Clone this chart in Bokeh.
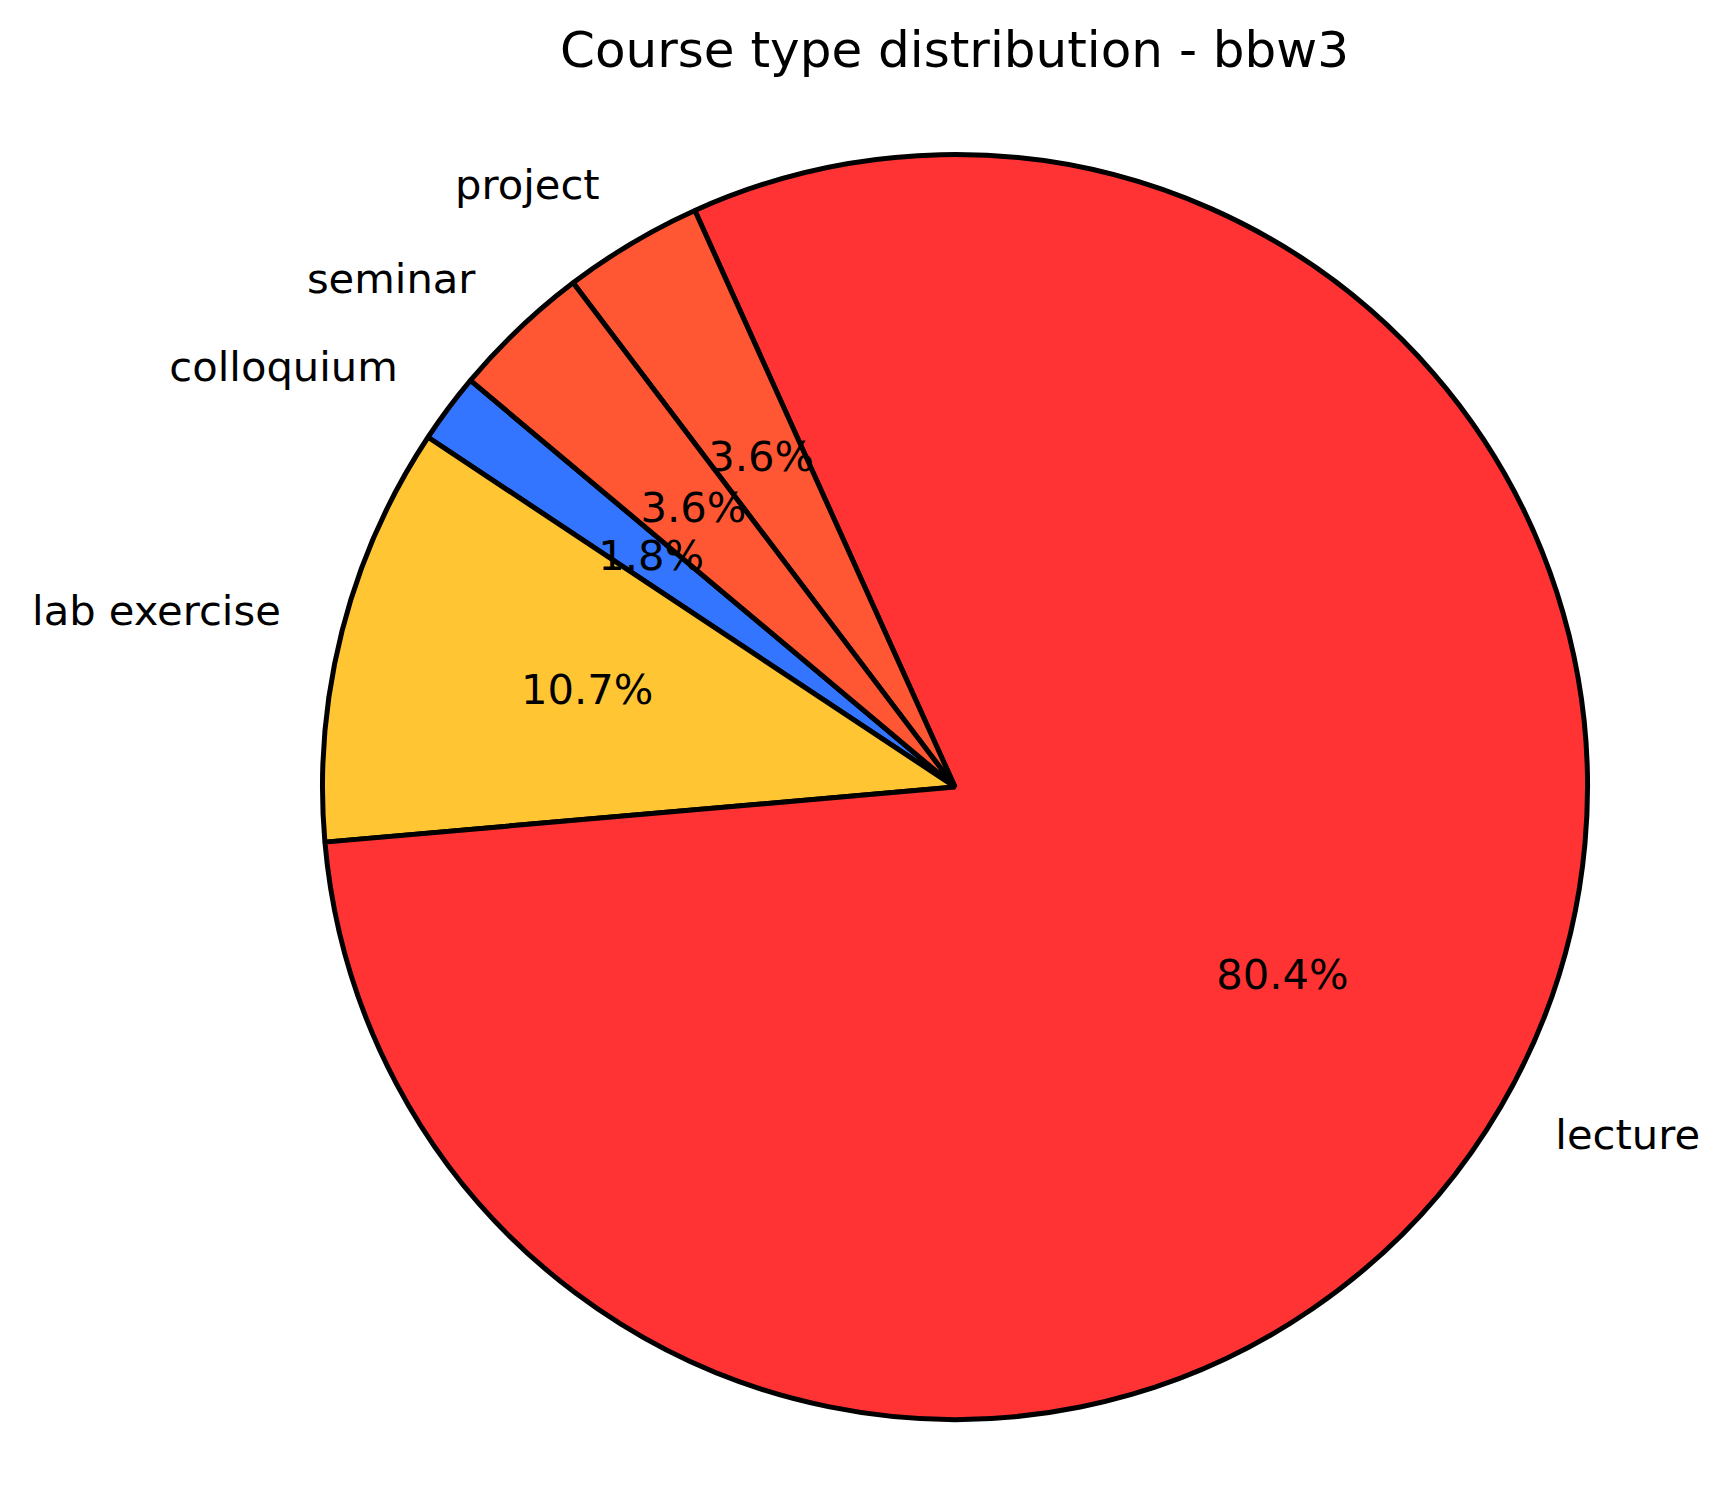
import math
from bokeh.plotting import figure
from bokeh.models import Range1d, ColumnDataSource
from bokeh.core.properties import value
from bokeh.embed import file_html
from bokeh.resources import INLINE

# ---- data ----
categories = ["colloquium", "lab exercise", "lecture", "project", "seminar"]
counts = [1, 6, 45, 2, 2]
colors = ["#3375FF", "#FFC533", "#FF3333", "#FF5733", "#FF5733"]
title_text = "Course type distribution - bbw3"
start_angle_deg = 140.0

# ---- layout (screen px of the page) ----
W, H = 1715, 1493
OX, OY = 0, 0  # where the plot frame's top-left lands on the page
CX, CY, R = 954.5, 786.5, 632.5
FONT = "DejaVu Sans"
LABEL_PX = 41.67
TITLE_PX = 50.0
BASE_FIX = 0.38  # em, empirical correction of the renderer's baseline

p = figure(width=W, height=H, output_backend="svg", toolbar_location=None,
           x_axis_type=None, y_axis_type=None, min_border=0,
           x_range=Range1d((OX - CX) / R, (OX + W - CX) / R),
           y_range=Range1d((CY - (OY + H)) / R, (CY - OY) / R))
p.outline_line_color = None
p.grid.visible = False
p.background_fill_color = "white"
p.border_fill_color = "white"

total = float(sum(counts))
starts, ends, mids = [], [], []
a = math.radians(start_angle_deg)
for c in counts:
    sweep = 2 * math.pi * c / total
    starts.append(a)
    ends.append(a + sweep)
    mids.append(a + sweep / 2)
    a += sweep

src = ColumnDataSource(dict(start=starts, end=ends, color=colors))
p.wedge(x=0, y=0, radius=1.0, start_angle="start", end_angle="end",
        fill_color="color", line_color="black", line_width=5,
        line_join="bevel", direction="anticlock", source=src)

# offset from visual centre to baseline (matplotlib va='center')
lab_off = (0.276 - BASE_FIX) * LABEL_PX / R

lx, ly, lt, la = [], [], [], []
px, py, pt = [], [], []
for name, c, m in zip(categories, counts, mids):
    cx, sy = math.cos(m), math.sin(m)
    lx.append(1.1 * cx)
    ly.append(1.1 * sy - lab_off)
    lt.append(name)
    la.append("left" if cx > 0 else "right")
    px.append(0.6 * cx)
    py.append(0.6 * sy - lab_off)
    pt.append("%.1f%%" % (100.0 * c / total))

for align in ("left", "right"):
    idx = [i for i in range(len(lt)) if la[i] == align]
    p.text(x=[lx[i] for i in idx], y=[ly[i] for i in idx], text=[lt[i] for i in idx],
           text_font=value(FONT), text_font_size="%.2fpx" % LABEL_PX,
           text_align=align, text_baseline="alphabetic", text_color="black")

p.text(x=px, y=py, text=pt, text_font=value(FONT), text_font_size="%.2fpx" % LABEL_PX,
       text_align="center", text_baseline="alphabetic", text_color="black")

# title
p.text(x=[(954 - CX) / R], y=[(CY - 68.3 + BASE_FIX * TITLE_PX) / R], text=[title_text],
       text_font=value(FONT), text_font_size="%.0fpx" % TITLE_PX,
       text_align="center", text_baseline="alphabetic", text_color="black")

open("out.html", "w").write(file_html(p, INLINE))
